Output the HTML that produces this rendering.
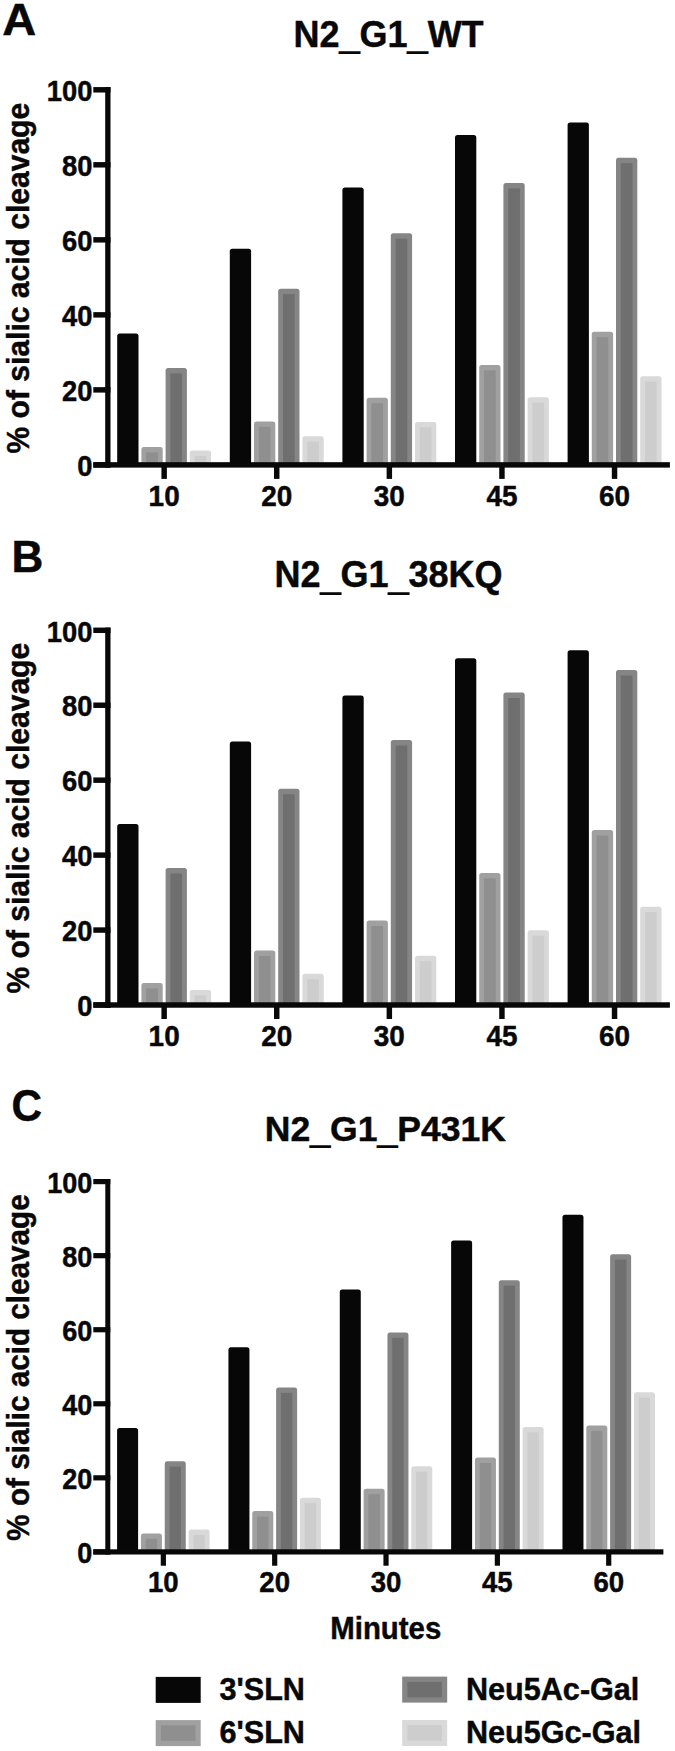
<!DOCTYPE html>
<html><head><meta charset="utf-8"><title>Sialic acid cleavage</title>
<style>
html,body{margin:0;padding:0;background:#fff;}
body{width:675px;height:1751px;overflow:hidden;}
svg{display:block;}
text{font-family:"Liberation Sans", Arial, Helvetica, sans-serif;font-weight:bold;fill:#080808;stroke:#080808;stroke-width:0.45px;}
</style></head><body>
<svg width="675" height="1751" viewBox="0 0 675 1751">
<rect width="675" height="1751" fill="#fff"/>
<rect x="117.2" y="333.5" width="21.3" height="131.4" rx="2.5" fill="#070707"/>
<rect x="141.4" y="447" width="21.3" height="17.9" rx="2.5" fill="#a0a0a0"/><rect x="146.2" y="452.4" width="11.7" height="12.5" fill="#8f8f8f"/>
<rect x="165.6" y="368" width="21.3" height="96.9" rx="2.5" fill="#858585"/><rect x="170.4" y="373.4" width="11.7" height="91.5" fill="#6f6f6f"/>
<rect x="189.8" y="450.5" width="21.3" height="14.4" rx="2.5" fill="#d9d9d9"/><rect x="194.6" y="455.9" width="11.7" height="9" fill="#cdcdcd"/>
<rect x="229.8" y="248.8" width="21.3" height="216.1" rx="2.5" fill="#070707"/>
<rect x="254" y="421.4" width="21.3" height="43.5" rx="2.5" fill="#a0a0a0"/><rect x="258.8" y="426.8" width="11.7" height="38.1" fill="#8f8f8f"/>
<rect x="278.2" y="288.7" width="21.3" height="176.2" rx="2.5" fill="#858585"/><rect x="283" y="294.1" width="11.7" height="170.8" fill="#6f6f6f"/>
<rect x="302.4" y="436.3" width="21.3" height="28.6" rx="2.5" fill="#d9d9d9"/><rect x="307.2" y="441.7" width="11.7" height="23.2" fill="#cdcdcd"/>
<rect x="342.4" y="187.6" width="21.3" height="277.3" rx="2.5" fill="#070707"/>
<rect x="366.6" y="397.7" width="21.3" height="67.2" rx="2.5" fill="#a0a0a0"/><rect x="371.4" y="403.1" width="11.7" height="61.8" fill="#8f8f8f"/>
<rect x="390.8" y="233.3" width="21.3" height="231.6" rx="2.5" fill="#858585"/><rect x="395.6" y="238.7" width="11.7" height="226.2" fill="#6f6f6f"/>
<rect x="415" y="421.9" width="21.3" height="43" rx="2.5" fill="#d9d9d9"/><rect x="419.8" y="427.3" width="11.7" height="37.6" fill="#cdcdcd"/>
<rect x="455" y="134.9" width="21.3" height="330" rx="2.5" fill="#070707"/>
<rect x="479.2" y="365" width="21.3" height="99.9" rx="2.5" fill="#a0a0a0"/><rect x="484" y="370.4" width="11.7" height="94.5" fill="#8f8f8f"/>
<rect x="503.4" y="183" width="21.3" height="281.9" rx="2.5" fill="#858585"/><rect x="508.2" y="188.4" width="11.7" height="276.5" fill="#6f6f6f"/>
<rect x="527.6" y="397.2" width="21.3" height="67.7" rx="2.5" fill="#d9d9d9"/><rect x="532.4" y="402.6" width="11.7" height="62.3" fill="#cdcdcd"/>
<rect x="567.6" y="122.5" width="21.3" height="342.4" rx="2.5" fill="#070707"/>
<rect x="591.8" y="331.7" width="21.3" height="133.2" rx="2.5" fill="#a0a0a0"/><rect x="596.6" y="337.1" width="11.7" height="127.8" fill="#8f8f8f"/>
<rect x="616" y="157.8" width="21.3" height="307.1" rx="2.5" fill="#858585"/><rect x="620.8" y="163.2" width="11.7" height="301.7" fill="#6f6f6f"/>
<rect x="640.2" y="376.2" width="21.3" height="88.7" rx="2.5" fill="#d9d9d9"/><rect x="645" y="381.6" width="11.7" height="83.3" fill="#cdcdcd"/>
<rect x="105.2" y="87.08" width="5.3" height="380.55" fill="#080808"/>
<rect x="93.3" y="462.17" width="576.6" height="5.45" fill="#080808"/>
<rect x="93.3" y="462.17" width="17.2" height="5.45" fill="#080808"/>
<text transform="translate(92.4 476.1) scale(0.96 1.06)" text-anchor="end" font-size="28.5">0</text>
<rect x="93.3" y="387.15" width="17.2" height="5.45" fill="#080808"/>
<text transform="translate(92.4 401.08) scale(0.96 1.06)" text-anchor="end" font-size="28.5">20</text>
<rect x="93.3" y="312.13" width="17.2" height="5.45" fill="#080808"/>
<text transform="translate(92.4 326.06) scale(0.96 1.06)" text-anchor="end" font-size="28.5">40</text>
<rect x="93.3" y="237.12" width="17.2" height="5.45" fill="#080808"/>
<text transform="translate(92.4 251.04) scale(0.96 1.06)" text-anchor="end" font-size="28.5">60</text>
<rect x="93.3" y="162.09" width="17.2" height="5.45" fill="#080808"/>
<text transform="translate(92.4 176.02) scale(0.96 1.06)" text-anchor="end" font-size="28.5">80</text>
<rect x="93.3" y="87.07" width="17.2" height="5.45" fill="#080808"/>
<text transform="translate(92.4 101) scale(0.96 1.06)" text-anchor="end" font-size="28.5">100</text>
<rect x="161.43" y="464.9" width="5.45" height="14" fill="#080808"/>
<text transform="translate(164.15 505.9) scale(0.98 1.05)" text-anchor="middle" font-size="28.5">10</text>
<rect x="274.02" y="464.9" width="5.45" height="14" fill="#080808"/>
<text transform="translate(276.75 505.9) scale(0.98 1.05)" text-anchor="middle" font-size="28.5">20</text>
<rect x="386.62" y="464.9" width="5.45" height="14" fill="#080808"/>
<text transform="translate(389.35 505.9) scale(0.98 1.05)" text-anchor="middle" font-size="28.5">30</text>
<rect x="499.22" y="464.9" width="5.45" height="14" fill="#080808"/>
<text transform="translate(501.95 505.9) scale(0.98 1.05)" text-anchor="middle" font-size="28.5">45</text>
<rect x="611.82" y="464.9" width="5.45" height="14" fill="#080808"/>
<text transform="translate(614.55 505.9) scale(0.98 1.05)" text-anchor="middle" font-size="28.5">60</text>
<text transform="translate(2.2 35) scale(1.07 1)" font-size="44">A</text>
<text x="388.55" y="47" text-anchor="middle" font-size="36">N2<tspan dy="2.2" style="stroke-width:1.25px">_</tspan><tspan dy="-2.2">G1</tspan><tspan dy="2.2" style="stroke-width:1.25px">_</tspan><tspan dy="-2.2">WT</tspan></text>
<text transform="translate(28.7 278.15) rotate(-90)" text-anchor="middle" font-size="32" textLength="350.6" lengthAdjust="spacingAndGlyphs">% of sialic acid cleavage</text>
<rect x="117.2" y="824.1" width="21.3" height="180.9" rx="2.5" fill="#070707"/>
<rect x="141.4" y="983" width="21.3" height="22" rx="2.5" fill="#a0a0a0"/><rect x="146.2" y="988.4" width="11.7" height="16.6" fill="#8f8f8f"/>
<rect x="165.6" y="868.1" width="21.3" height="136.9" rx="2.5" fill="#858585"/><rect x="170.4" y="873.5" width="11.7" height="131.5" fill="#6f6f6f"/>
<rect x="189.8" y="990" width="21.3" height="15" rx="2.5" fill="#d9d9d9"/><rect x="194.6" y="995.4" width="11.7" height="9.6" fill="#cdcdcd"/>
<rect x="229.8" y="741.5" width="21.3" height="263.5" rx="2.5" fill="#070707"/>
<rect x="254" y="950.6" width="21.3" height="54.4" rx="2.5" fill="#a0a0a0"/><rect x="258.8" y="956" width="11.7" height="49" fill="#8f8f8f"/>
<rect x="278.2" y="788.8" width="21.3" height="216.2" rx="2.5" fill="#858585"/><rect x="283" y="794.2" width="11.7" height="210.8" fill="#6f6f6f"/>
<rect x="302.4" y="973.8" width="21.3" height="31.2" rx="2.5" fill="#d9d9d9"/><rect x="307.2" y="979.2" width="11.7" height="25.8" fill="#cdcdcd"/>
<rect x="342.4" y="695.5" width="21.3" height="309.5" rx="2.5" fill="#070707"/>
<rect x="366.6" y="920.6" width="21.3" height="84.4" rx="2.5" fill="#a0a0a0"/><rect x="371.4" y="926" width="11.7" height="79" fill="#8f8f8f"/>
<rect x="390.8" y="740.1" width="21.3" height="264.9" rx="2.5" fill="#858585"/><rect x="395.6" y="745.5" width="11.7" height="259.5" fill="#6f6f6f"/>
<rect x="415" y="955.8" width="21.3" height="49.2" rx="2.5" fill="#d9d9d9"/><rect x="419.8" y="961.2" width="11.7" height="43.8" fill="#cdcdcd"/>
<rect x="455" y="658.3" width="21.3" height="346.7" rx="2.5" fill="#070707"/>
<rect x="479.2" y="873" width="21.3" height="132" rx="2.5" fill="#a0a0a0"/><rect x="484" y="878.4" width="11.7" height="126.6" fill="#8f8f8f"/>
<rect x="503.4" y="692.6" width="21.3" height="312.4" rx="2.5" fill="#858585"/><rect x="508.2" y="698" width="11.7" height="307" fill="#6f6f6f"/>
<rect x="527.6" y="930.2" width="21.3" height="74.8" rx="2.5" fill="#d9d9d9"/><rect x="532.4" y="935.6" width="11.7" height="69.4" fill="#cdcdcd"/>
<rect x="567.6" y="650.2" width="21.3" height="354.8" rx="2.5" fill="#070707"/>
<rect x="591.8" y="830.1" width="21.3" height="174.9" rx="2.5" fill="#a0a0a0"/><rect x="596.6" y="835.5" width="11.7" height="169.5" fill="#8f8f8f"/>
<rect x="616" y="670.1" width="21.3" height="334.9" rx="2.5" fill="#858585"/><rect x="620.8" y="675.5" width="11.7" height="329.5" fill="#6f6f6f"/>
<rect x="640.2" y="906.7" width="21.3" height="98.3" rx="2.5" fill="#d9d9d9"/><rect x="645" y="912.1" width="11.7" height="92.9" fill="#cdcdcd"/>
<rect x="105.2" y="627.57" width="5.3" height="380.15" fill="#080808"/>
<rect x="93.3" y="1002.27" width="576.6" height="5.45" fill="#080808"/>
<rect x="93.3" y="1002.27" width="17.2" height="5.45" fill="#080808"/>
<text transform="translate(92.4 1016.2) scale(0.96 1.06)" text-anchor="end" font-size="28.5">0</text>
<rect x="93.3" y="927.33" width="17.2" height="5.45" fill="#080808"/>
<text transform="translate(92.4 941.26) scale(0.96 1.06)" text-anchor="end" font-size="28.5">20</text>
<rect x="93.3" y="852.39" width="17.2" height="5.45" fill="#080808"/>
<text transform="translate(92.4 866.32) scale(0.96 1.06)" text-anchor="end" font-size="28.5">40</text>
<rect x="93.3" y="777.45" width="17.2" height="5.45" fill="#080808"/>
<text transform="translate(92.4 791.38) scale(0.96 1.06)" text-anchor="end" font-size="28.5">60</text>
<rect x="93.3" y="702.51" width="17.2" height="5.45" fill="#080808"/>
<text transform="translate(92.4 716.44) scale(0.96 1.06)" text-anchor="end" font-size="28.5">80</text>
<rect x="93.3" y="627.57" width="17.2" height="5.45" fill="#080808"/>
<text transform="translate(92.4 641.5) scale(0.96 1.06)" text-anchor="end" font-size="28.5">100</text>
<rect x="161.43" y="1005" width="5.45" height="14" fill="#080808"/>
<text transform="translate(164.15 1046) scale(0.98 1.05)" text-anchor="middle" font-size="28.5">10</text>
<rect x="274.02" y="1005" width="5.45" height="14" fill="#080808"/>
<text transform="translate(276.75 1046) scale(0.98 1.05)" text-anchor="middle" font-size="28.5">20</text>
<rect x="386.62" y="1005" width="5.45" height="14" fill="#080808"/>
<text transform="translate(389.35 1046) scale(0.98 1.05)" text-anchor="middle" font-size="28.5">30</text>
<rect x="499.22" y="1005" width="5.45" height="14" fill="#080808"/>
<text transform="translate(501.95 1046) scale(0.98 1.05)" text-anchor="middle" font-size="28.5">45</text>
<rect x="611.82" y="1005" width="5.45" height="14" fill="#080808"/>
<text transform="translate(614.55 1046) scale(0.98 1.05)" text-anchor="middle" font-size="28.5">60</text>
<text x="11.4" y="572.4" font-size="44">B</text>
<text x="388.55" y="587.4" text-anchor="middle" font-size="36">N2<tspan dy="2.2" style="stroke-width:1.25px">_</tspan><tspan dy="-2.2">G1</tspan><tspan dy="2.2" style="stroke-width:1.25px">_</tspan><tspan dy="-2.2">38KQ</tspan></text>
<text transform="translate(28.7 818.15) rotate(-90)" text-anchor="middle" font-size="32" textLength="350.6" lengthAdjust="spacingAndGlyphs">% of sialic acid cleavage</text>
<rect x="117.1" y="1428.1" width="21" height="123.8" rx="2.5" fill="#070707"/>
<rect x="140.94" y="1533.5" width="21" height="18.4" rx="2.5" fill="#a0a0a0"/><rect x="145.74" y="1538.9" width="11.4" height="13" fill="#8f8f8f"/>
<rect x="164.76" y="1461.3" width="21" height="90.6" rx="2.5" fill="#858585"/><rect x="169.56" y="1466.7" width="11.4" height="85.2" fill="#6f6f6f"/>
<rect x="188.59" y="1529.5" width="21" height="22.4" rx="2.5" fill="#d9d9d9"/><rect x="193.39" y="1534.9" width="11.4" height="17" fill="#cdcdcd"/>
<rect x="228.44" y="1347.2" width="21" height="204.7" rx="2.5" fill="#070707"/>
<rect x="252.27" y="1511.1" width="21" height="40.8" rx="2.5" fill="#a0a0a0"/><rect x="257.07" y="1516.5" width="11.4" height="35.4" fill="#8f8f8f"/>
<rect x="276.11" y="1387.5" width="21" height="164.4" rx="2.5" fill="#858585"/><rect x="280.91" y="1392.9" width="11.4" height="159" fill="#6f6f6f"/>
<rect x="299.94" y="1497.8" width="21" height="54.1" rx="2.5" fill="#d9d9d9"/><rect x="304.74" y="1503.2" width="11.4" height="48.7" fill="#cdcdcd"/>
<rect x="339.78" y="1289.5" width="21" height="262.4" rx="2.5" fill="#070707"/>
<rect x="363.61" y="1488.8" width="21" height="63.1" rx="2.5" fill="#a0a0a0"/><rect x="368.41" y="1494.2" width="11.4" height="57.7" fill="#8f8f8f"/>
<rect x="387.44" y="1332.4" width="21" height="219.5" rx="2.5" fill="#858585"/><rect x="392.24" y="1337.8" width="11.4" height="214.1" fill="#6f6f6f"/>
<rect x="411.27" y="1466.3" width="21" height="85.6" rx="2.5" fill="#d9d9d9"/><rect x="416.07" y="1471.7" width="11.4" height="80.2" fill="#cdcdcd"/>
<rect x="451.12" y="1240.4" width="21" height="311.5" rx="2.5" fill="#070707"/>
<rect x="474.95" y="1457.6" width="21" height="94.3" rx="2.5" fill="#a0a0a0"/><rect x="479.75" y="1463" width="11.4" height="88.9" fill="#8f8f8f"/>
<rect x="498.78" y="1280.2" width="21" height="271.7" rx="2.5" fill="#858585"/><rect x="503.58" y="1285.6" width="11.4" height="266.3" fill="#6f6f6f"/>
<rect x="522.62" y="1426.9" width="21" height="125" rx="2.5" fill="#d9d9d9"/><rect x="527.41" y="1432.3" width="11.4" height="119.6" fill="#cdcdcd"/>
<rect x="562.47" y="1214.8" width="21" height="337.1" rx="2.5" fill="#070707"/>
<rect x="586.3" y="1425.4" width="21" height="126.5" rx="2.5" fill="#a0a0a0"/><rect x="591.1" y="1430.8" width="11.4" height="121.1" fill="#8f8f8f"/>
<rect x="610.12" y="1254.2" width="21" height="297.7" rx="2.5" fill="#858585"/><rect x="614.92" y="1259.6" width="11.4" height="292.3" fill="#6f6f6f"/>
<rect x="633.96" y="1392.2" width="21" height="159.7" rx="2.5" fill="#d9d9d9"/><rect x="638.75" y="1397.6" width="11.4" height="154.3" fill="#cdcdcd"/>
<rect x="105.3" y="1179" width="5" height="375.5" fill="#080808"/>
<rect x="93.3" y="1549.3" width="570.1" height="5.2" fill="#080808"/>
<rect x="93.3" y="1549.3" width="17" height="5.2" fill="#080808"/>
<text transform="translate(92.4 1562.97) scale(0.96 1.06)" text-anchor="end" font-size="28.16">0</text>
<rect x="93.3" y="1475.24" width="17" height="5.2" fill="#080808"/>
<text transform="translate(92.4 1488.91) scale(0.96 1.06)" text-anchor="end" font-size="28.16">20</text>
<rect x="93.3" y="1401.18" width="17" height="5.2" fill="#080808"/>
<text transform="translate(92.4 1414.85) scale(0.96 1.06)" text-anchor="end" font-size="28.16">40</text>
<rect x="93.3" y="1327.12" width="17" height="5.2" fill="#080808"/>
<text transform="translate(92.4 1340.79) scale(0.96 1.06)" text-anchor="end" font-size="28.16">60</text>
<rect x="93.3" y="1253.06" width="17" height="5.2" fill="#080808"/>
<text transform="translate(92.4 1266.73) scale(0.96 1.06)" text-anchor="end" font-size="28.16">80</text>
<rect x="93.3" y="1179" width="17" height="5.2" fill="#080808"/>
<text transform="translate(92.4 1192.67) scale(0.96 1.06)" text-anchor="end" font-size="28.16">100</text>
<rect x="160.75" y="1551.9" width="5.2" height="13.83" fill="#080808"/>
<text transform="translate(163.35 1592.41) scale(0.98 1.05)" text-anchor="middle" font-size="28.16">10</text>
<rect x="272.09" y="1551.9" width="5.2" height="13.83" fill="#080808"/>
<text transform="translate(274.69 1592.41) scale(0.98 1.05)" text-anchor="middle" font-size="28.16">20</text>
<rect x="383.43" y="1551.9" width="5.2" height="13.83" fill="#080808"/>
<text transform="translate(386.03 1592.41) scale(0.98 1.05)" text-anchor="middle" font-size="28.16">30</text>
<rect x="494.77" y="1551.9" width="5.2" height="13.83" fill="#080808"/>
<text transform="translate(497.37 1592.41) scale(0.98 1.05)" text-anchor="middle" font-size="28.16">45</text>
<rect x="606.11" y="1551.9" width="5.2" height="13.83" fill="#080808"/>
<text transform="translate(608.71 1592.41) scale(0.98 1.05)" text-anchor="middle" font-size="28.16">60</text>
<text transform="translate(11.6 1120.8) scale(0.97 1)" font-size="43.6">C</text>
<text x="385.35" y="1140.5" text-anchor="middle" font-size="35.57">N2<tspan dy="2.17" style="stroke-width:1.25px">_</tspan><tspan dy="-2.17">G1</tspan><tspan dy="2.17" style="stroke-width:1.25px">_</tspan><tspan dy="-2.17">P431K</tspan></text>
<text transform="translate(29 1367.55) rotate(-90)" text-anchor="middle" font-size="31.62" textLength="346.4" lengthAdjust="spacingAndGlyphs">% of sialic acid cleavage</text>
<text transform="translate(385.75 1638.9) scale(0.96 1.02)" text-anchor="middle" font-size="30.6">Minutes</text>
<rect x="155.7" y="1676.9" width="45" height="26" fill="#070707"/>
<rect x="155.7" y="1720.1" width="45" height="26" fill="#a0a0a0"/><rect x="160.9" y="1725.3" width="34.6" height="15.6" fill="#8f8f8f"/>
<rect x="402.2" y="1676.6" width="45" height="26" fill="#858585"/><rect x="407.4" y="1681.8" width="34.6" height="15.6" fill="#6f6f6f"/>
<rect x="402.2" y="1720" width="45" height="26" fill="#d9d9d9"/><rect x="407.4" y="1725.2" width="34.6" height="15.6" fill="#cdcdcd"/>
<text transform="translate(219.5 1699.5) scale(1 1.02)" font-size="30.6">3'SLN</text>
<text transform="translate(219.5 1742.6) scale(1 1.02)" font-size="30.6">6'SLN</text>
<text transform="translate(466 1699.6) scale(1 1.02)" font-size="30.6">Neu5Ac-Gal</text>
<text transform="translate(466 1743.4) scale(1 1.02)" font-size="30.6">Neu5Gc-Gal</text>
</svg>
</body></html>
